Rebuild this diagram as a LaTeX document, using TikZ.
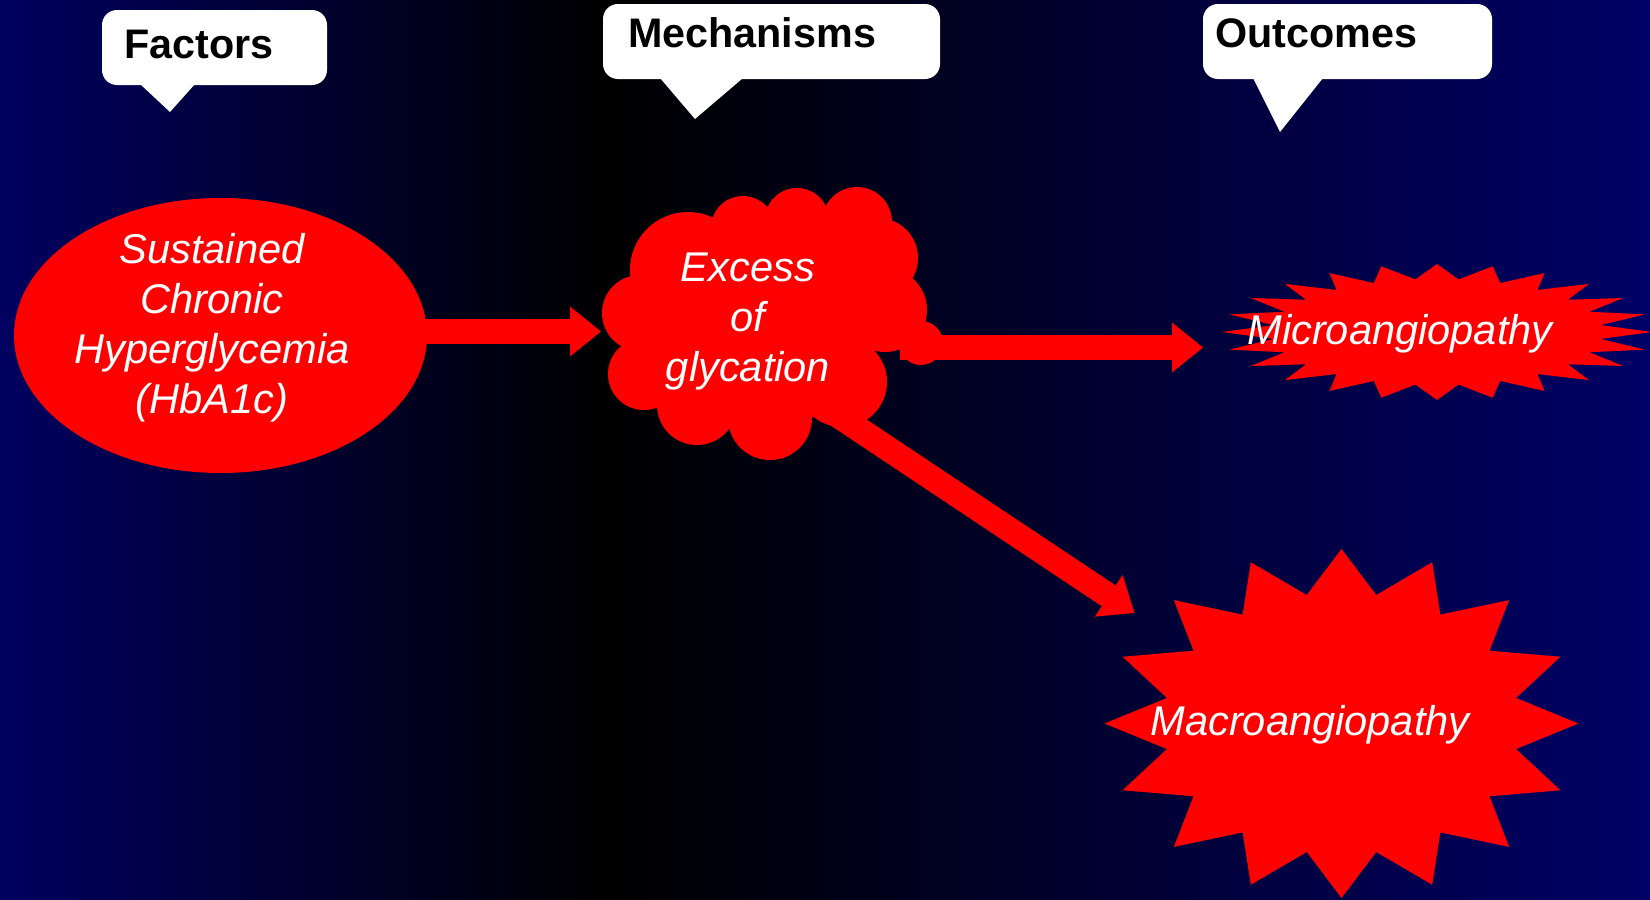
\documentclass[tikz,border=0pt]{standalone}
\usepackage{fontspec}
\setmainfont{Liberation Sans}
\usetikzlibrary{arrows.meta,shapes.geometric}
\definecolor{navyL}{RGB}{0,0,96}
\definecolor{navyR}{RGB}{0,0,102}
\definecolor{pptred}{RGB}{255,0,0}
\begin{document}
\begin{tikzpicture}[x=1bp,y=-1bp,
  callout/.style={fill=white, rounded corners=15bp},
  calltext/.style={anchor=base west, inner sep=0pt, font=\fontsize{41.3bp}{50bp}\selectfont\bfseries, text=black},
  redtext/.style={inner sep=0pt, align=center, font=\fontsize{41.6bp}{50bp}\selectfont\itshape, text=white},
  blockarrow/.style={draw=pptred, line width=25bp, -{Triangle[width=50bp,length=31bp,line width=0pt]}},
]
% background
\shade[left color=navyL, right color=black] (0,0) rectangle (605,899);
\shade[left color=black, right color=navyR] (605,0) rectangle (1650,899);
\useasboundingbox (0,0) rectangle (1650,899);

% callouts
\fill[callout] (102,10) rectangle (327,85);
\fill[white] (140,84) -- (170,112) -- (195,84) -- cycle;
\node[calltext] (factors) at (124,58) {Factors};

\fill[callout] (603,4) rectangle (940,79);
\fill[white] (660,78) -- (695,119) -- (743,78) -- cycle;
\node[calltext] (mechanisms) at (628,47) {Mechanisms};

\fill[callout] (1203,4) rectangle (1492,79);
\fill[white] (1253,78) -- (1280,132) -- (1323,78) -- cycle;
\node[calltext] (outcomes) at (1215,47) {Outcomes};

% connector end points
\coordinate (a1s) at (415,331.5);
\coordinate (a1e) at (601,331.5);
\coordinate (a2s) at (900,347.5);
\coordinate (a2e) at (1203,347.5);
\coordinate (a3s) at (820,403.4);
\coordinate (a3e) at (1134.5,613);

% arrows
\draw[blockarrow] (a1s) -- (a1e);
\draw[blockarrow] (a2s) -- (a2e);
\draw[blockarrow] (a3s) -- (a3e);

% ellipse
\node[ellipse, fill=pptred, draw=none, minimum width=413bp, minimum height=275bp, inner sep=0pt] (hyper) at (220.5,335.5) {};
\node[redtext, anchor=base] (hypertxt) at (212,413) {Sustained\\Chronic\\Hyperglycemia\\(HbA1c)};

% cloud
\coordinate (cloud) at (760,320);
\fill[pptred]
  (640,313) circle[radius=38bp]
  (688,270) circle[radius=58bp]
  (743,228) circle[radius=32bp]
  (797,220) circle[radius=32bp]
  (857,222) circle[radius=35bp]
  (878,258) circle[radius=40bp]
  (885,310) circle[radius=42bp]
  (921,343) circle[radius=22bp]
  (842,382) circle[radius=45bp]
  (770,418) circle[radius=42bp]
  (697,405) circle[radius=40bp]
  (644,374) circle[radius=36bp]
  (cloud) circle[radius=110bp];
\node[redtext, anchor=base] (cloudtxt) at (748,381) {Excess\\of\\glycation};

% micro starburst
\begin{scope}[shift={(1437,332)}]
\fill[pptred] (90:215 and 68) \foreach \i in {0,...,23} { -- ({97.5+15*\i}:165 and 53) -- ({105+15*\i}:215 and 68) } -- cycle;
\end{scope}
\node[redtext, anchor=base] (micro) at (1400,344) {Microangiopathy};

% macro starburst
\begin{scope}[shift={(1341.5,723.5)}]
\fill[pptred] (90:237 and 174.5) \foreach \i in {0,...,15} { -- ({101.25+22.5*\i}:178 and 131) -- ({112.5+22.5*\i}:237 and 174.5) } -- cycle;
\end{scope}
\node[redtext, anchor=base] (macro) at (1310,735) {Macroangiopathy};
\end{tikzpicture}
\end{document}
